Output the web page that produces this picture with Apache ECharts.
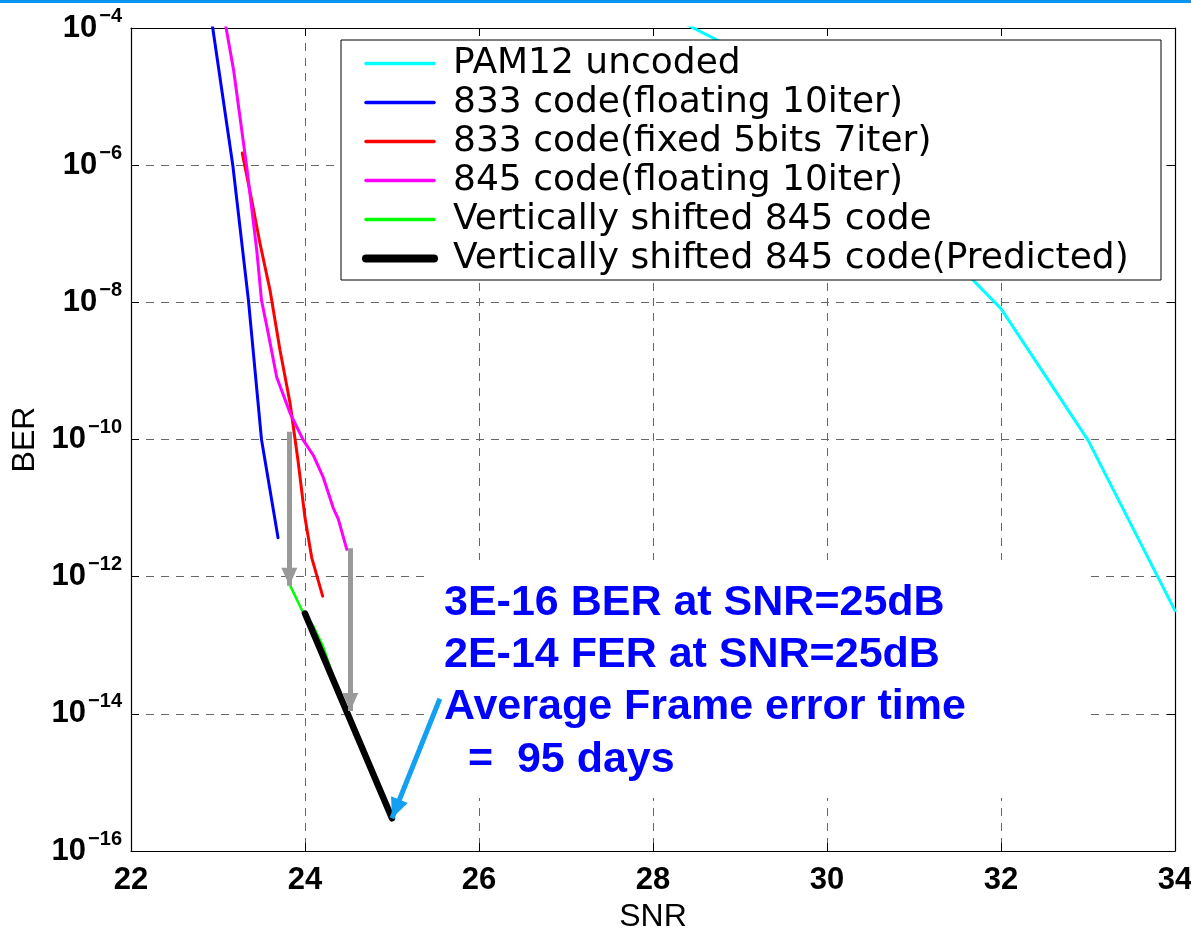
<!DOCTYPE html>
<html><head><meta charset="utf-8">
<script src="https://cdn.jsdelivr.net/npm/echarts@6/dist/echarts.min.js"></script>
<style>html,body{margin:0;padding:0;background:#fff}#c{width:1191px;height:928px}</style>
</head><body><div id="c"></div>
<script>
// ---- data ----
const seriesNames = [
  'PAM12 uncoded',
  '833 code(floating 10iter)',
  '833 code(fixed 5bits 7iter)',
  '845 code(floating 10iter)',
  'Vertically shifted 845 code',
  'Vertically shifted 845 code(Predicted)'
];
const xTicks = [22, 24, 26, 28, 30, 32, 34];
const yTicks = [1e-16, 1e-14, 1e-12, 1e-10, 1e-8, 1e-6, 1e-4];

const pamSnr = [28, 29, 30, 31, 32, 33, 34];
const pamBer = [2.0e-4, 4.5e-5, 2.8e-6, 1.6e-7, 8.1e-9, 9.8e-11, 3.2e-13];

const c833fSnr = [22.9, 23.17, 23.35, 23.5, 23.69];
const c833fBer = [2.2e-4, 1.0e-6, 1.07e-8, 1.0e-10, 3.7e-12];

const c833xSnr = [23.279, 23.387, 23.483, 23.598, 23.713, 23.828, 23.92, 24.0, 24.077, 24.203];
const c833xBer = [1.5e-6, 3.1e-7, 7.2e-8, 1.5e-8, 2.0e-9, 3.4e-10, 4.9e-11, 7.2e-12, 1.9e-12, 5.2e-13];

const c845Snr = [23.04, 23.18, 23.33, 23.445, 23.5, 23.578, 23.675, 23.83, 23.98, 24.095, 24.21, 24.325, 24.383, 24.48];
const c845Ber = [2.4e-4, 2.4e-5, 9.5e-7, 5.8e-8, 1.07e-8, 3.5e-9, 8.1e-10, 2.4e-10, 9.8e-11, 5.9e-11, 2.8e-11, 1.0e-11, 6.9e-12, 2.5e-12];

const shiftSnr = [23.83, 23.98, 24.095, 24.21, 24.325, 24.383, 24.48];
const shiftBer = [7.4e-13, 2.95e-13, 1.9e-13, 9.5e-14, 3.5e-14, 2.4e-14, 1.1e-14];

const predSnr = [24.0, 25.0];
const predBer = [2.9e-13, 3.0e-16];

// arrows: [x1, y1, x2, y2]
const grayArrows = [
  [23.82, 1.3e-10, 23.82, 7.4e-13],
  [24.52, 2.6e-12, 24.52, 1.1e-14]
];
const blueArrow = [25.55, 1.66e-14, 25.0, 3.0e-16];

const noteLines = ['3E-16 BER at SNR=25dB', '2E-14 FER at SNR=25dB', 'Average Frame error time', '  =  95 days'];

// ---- chart ----
const colors = ['#00ffff', '#0000ff', '#ff0000', '#ff00ff', '#00ff00', '#000000'];
const widths = [3, 3, 3, 3, 2.5, 6.5];
const legendWidths = [3.5, 3.5, 3.5, 3.5, 3.5, 8];
const xs = [pamSnr, c833fSnr, c833xSnr, c845Snr, shiftSnr, predSnr];
const ys = [pamBer, c833fBer, c833xBer, c845Ber, shiftBer, predBer];

// arrow head whose tip sits at the centre of its box (so the tip lands on the end point)
const headPath = 'path://M0,-18 M0,0 L8,18 L-8,18 Z';

const chart = echarts.init(document.getElementById('c'), null, {renderer: 'canvas'});

const lineSeries = seriesNames.map((n, i) => ({
  name: n, type: 'line', symbol: 'none', smooth: false,
  data: xs[i].map((x, k) => [x, ys[i][k]]),
  lineStyle: {color: colors[i], width: widths[i], cap: 'round', join: 'round'},
  itemStyle: {color: colors[i]},
  z: 2 + i * 0.01,
  animation: false
}));

const arrowSeries = [
  {
    name: 'grayArrows', type: 'line', data: [], silent: true,
    markLine: {
      silent: true, animation: false,
      symbol: ['none', headPath], symbolSize: [16, 36],
      label: {show: false},
      lineStyle: {color: '#999999', width: 5, type: 'solid'},
      emphasis: {disabled: true},
      data: grayArrows.map(a => [{coord: [a[0], a[1]]}, {coord: [a[2], a[3]]}])
    }
  },
  {
    name: 'blueArrow', type: 'line', data: [], silent: true,
    markLine: {
      silent: true, animation: false,
      symbol: ['none', headPath], symbolSize: [18, 40],
      label: {show: false},
      lineStyle: {color: '#13a0f2', width: 5, type: 'solid'},
      emphasis: {disabled: true},
      data: [[{coord: [blueArrow[0], blueArrow[1]]}, {coord: [blueArrow[2], blueArrow[3]]}]]
    }
  }
];

const gridLine = {show: true, lineStyle: {color: '#666', width: 1, type: [8, 7]}};
const labelFont = '"Liberation Sans", Arial, sans-serif';

const option = {
  animation: false,
  backgroundColor: '#ffffff',
  grid: {left: 131, right: 16, top: 28, bottom: 77, containLabel: false, outerBoundsMode: 'none'},
  xAxis: [{
    type: 'value', min: 22, max: 34, interval: 2,
    name: 'SNR', nameLocation: 'middle', nameGap: 47,
    nameTextStyle: {fontSize: 32, color: '#000', fontFamily: labelFont},
    axisLine: {show: true, onZero: false, lineStyle: {color: '#000', width: 1.2}},
    axisTick: {show: true, inside: true, length: 8, lineStyle: {color: '#000'}},
    axisLabel: {fontSize: 31, fontWeight: 'bold', color: '#000', margin: 14, fontFamily: labelFont,
      formatter: v => xTicks.includes(v) ? String(v) : ''},
    splitLine: gridLine
  }, {
    type: 'value', min: 22, max: 34, interval: 2, position: 'top',
    axisLine: {show: true, onZero: false, lineStyle: {color: '#000', width: 1.2}},
    axisTick: {show: true, inside: true, length: 8, lineStyle: {color: '#000'}},
    axisLabel: {show: false}, splitLine: {show: false}
  }],
  yAxis: [{
    type: 'log', logBase: 10, min: yTicks[0], max: yTicks[yTicks.length - 1], interval: 2,
    name: 'BER', nameLocation: 'middle', nameGap: 88, nameRotate: 90,
    nameTextStyle: {fontSize: 32, color: '#000', fontFamily: labelFont},
    axisLine: {show: true, onZero: false, lineStyle: {color: '#000', width: 1.2}},
    axisTick: {show: true, inside: true, length: 8, lineStyle: {color: '#000'}},
    axisLabel: {
      margin: 9, color: '#000', fontFamily: labelFont,
      formatter: v => {
        const e = Math.round(Math.log10(v));
        return '{b|10}{s|\u2212' + Math.abs(e) + '}';
      },
      rich: {
        b: {fontSize: 31, fontWeight: 'bold', fontFamily: labelFont, color: '#000'},
        s: {fontSize: 20, fontWeight: 'bold', fontFamily: labelFont, color: '#000', padding: [0, 0, 24, 2]}
      }
    },
    splitLine: gridLine
  }, {
    type: 'log', logBase: 10, min: yTicks[0], max: yTicks[yTicks.length - 1], interval: 2, position: 'right',
    axisLine: {show: true, onZero: false, lineStyle: {color: '#000', width: 1.2}},
    axisTick: {show: true, inside: true, length: 8, lineStyle: {color: '#000'}},
    axisLabel: {show: false}, splitLine: {show: false}
  }],
  legend: {
    data: seriesNames.map((n, i) => ({name: n, lineStyle: {width: legendWidths[i], color: colors[i], cap: 'round'}})),
    orient: 'vertical', left: 362, top: 44, padding: 0, itemGap: 0,
    itemWidth: 68, itemHeight: 2, selectedMode: false,
    itemStyle: {opacity: 0},
    textStyle: {fontSize: 36, color: '#000', fontFamily: '"DejaVu Sans", sans-serif',
      lineHeight: 39, padding: [0, 0, 0, 14]},
    z: 10
  },
  graphic: [
    {type: 'rect', left: 0, top: 0, shape: {width: 1191, height: 3}, style: {fill: '#0a96f0'}, z: 20},
    {type: 'rect', x: 341, y: 40, shape: {width: 820, height: 240}, style: {fill: '#fff', stroke: '#000', lineWidth: 1}, z: 5},
    {type: 'rect', x: 427, y: 560, shape: {width: 660, height: 238}, style: {fill: '#fff'}, z: 1},
    ...noteLines.map((t, i) => ({
      type: 'text', x: 444, y: 603 + i * 52.3, z: 6,
      style: {text: t, fill: '#0000ff', font: 'bold 43px "Liberation Sans", Arial, sans-serif', verticalAlign: 'middle', textAlign: 'left'}
    }))
  ],
  series: [...lineSeries, ...arrowSeries]
};
chart.setOption(option);
</script>
</body></html>
